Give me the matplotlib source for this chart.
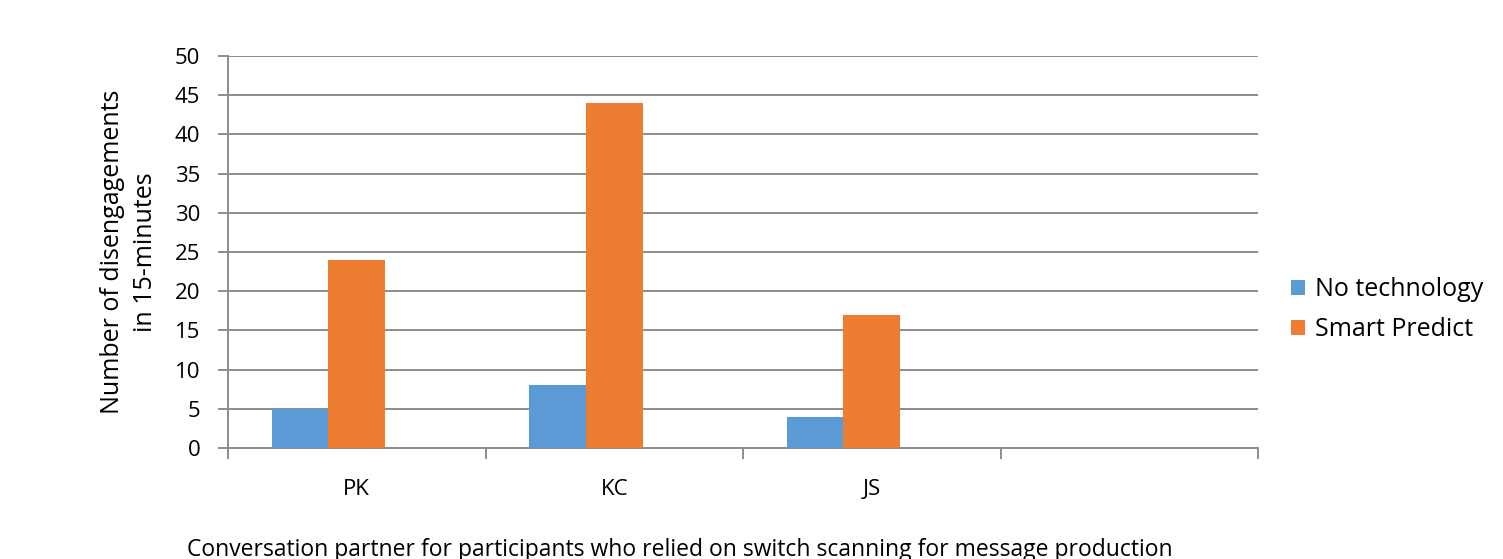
import numpy as np
import matplotlib.pyplot as plt

# Дані діаграми
categories = ['PK', 'KC', 'JS', '']
no_technology = [5, 8, 4, 0]
smart_predict = [24, 44, 17, 0]
series_names = ['No technology', 'Smart Predict']
yticks = list(range(0, 55, 5))

plt.rcParams['font.family'] = ['Open Sans', 'DejaVu Sans']

W, H = 1503, 559
fig = plt.figure(figsize=(W / 100, H / 100), dpi=100)
ax = fig.add_axes([228 / W, 1 - 448 / H, (1258 - 228) / W, (448 - 56) / H])

x = np.arange(len(categories))
w = 0.22
grid_col = '#8c8c8c'
# Помаранчеві стовпці по центру категорії, сині ліворуч (як в Excel з трьома серіями)
ax.bar(x - w, no_technology, w, color='#5B9BD5', label=series_names[0], zorder=3)
ax.bar(x, smart_predict, w, color='#ED7D31', label=series_names[1], zorder=3)

ax.set_xlim(-0.5, len(categories) - 0.5)
ax.set_ylim(0, 50)
ax.set_yticks(yticks)
ax.set_yticklabels([str(t) for t in yticks], fontsize=16)
ax.yaxis.grid(True, color=grid_col, linewidth=1.4, zorder=0)

ax.set_xticks(x)
ax.set_xticklabels(categories, fontsize=16)
ax.tick_params(axis='x', length=0, pad=22)
ax.set_xticks(np.arange(len(categories) + 1) - 0.5, minor=True)
ax.tick_params(axis='x', which='minor', length=8, color=grid_col, width=1.4)
ax.tick_params(axis='y', length=7, color=grid_col, width=1.4, pad=13)

for side in ['top', 'right']:
    ax.spines[side].set_visible(False)
ax.spines['left'].set_color(grid_col)
ax.spines['left'].set_linewidth(1.4)
ax.spines['bottom'].set_color(grid_col)
ax.spines['bottom'].set_linewidth(1.4)

ax.set_ylabel('Number of disengagements\nin 15-minutes', fontsize=18, labelpad=12,
              linespacing=1.4)
fig.text(680 / W, 1 - 550 / H,
         'Conversation partner for participants who relied on switch scanning for message production',
         ha='center', va='center', fontsize=16.5)

ax.legend(loc='center left', bbox_to_anchor=(1291 / W, 1 - 310 / H),
          bbox_transform=fig.transFigure, frameon=False, fontsize=18,
          borderpad=0, borderaxespad=0, handlelength=0.55, handleheight=0.55,
          handletextpad=0.4, labelspacing=0.6)

plt.savefig('out.png', dpi=100)
